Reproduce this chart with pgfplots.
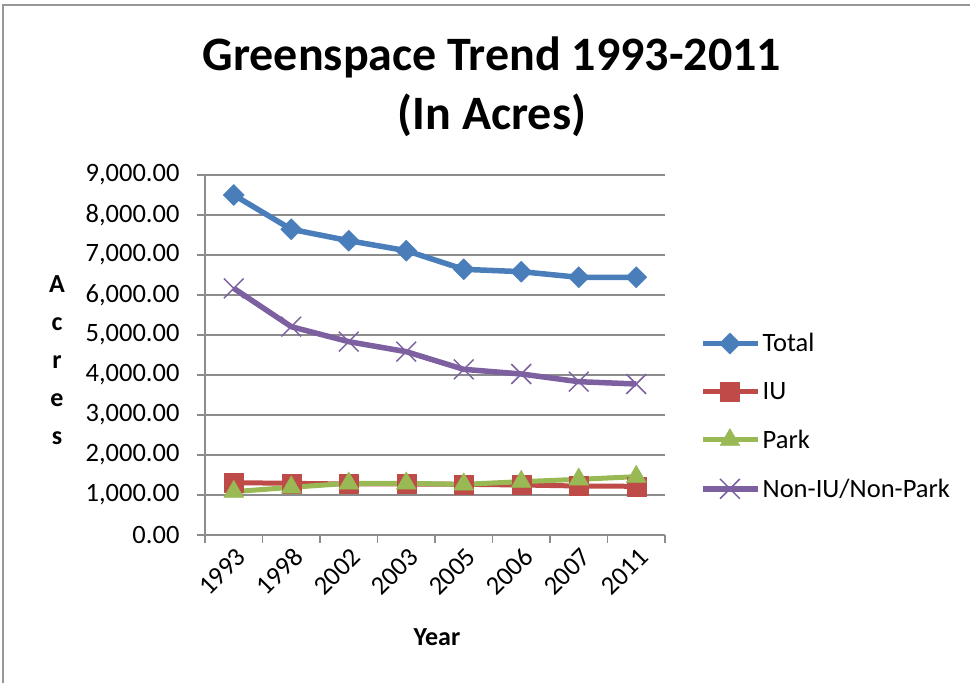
\documentclass[border=0pt]{standalone}
\usepackage{fontspec}
\setmainfont{Carlito}
\usepackage{pgfplots}
\pgfplotsset{compat=1.18}
\definecolor{cTotal}{HTML}{4A7EBB}
\definecolor{cIU}{HTML}{BE4B48}
\definecolor{cPark}{HTML}{98B954}
\definecolor{cNon}{HTML}{7D60A0}
\definecolor{cGrid}{HTML}{8C8C8C}
\begin{document}
\begin{tikzpicture}
\useasboundingbox (0pt,0pt) rectangle (970pt,683pt);
\draw[cGrid!90, line width=1.5pt] (3pt,0pt) -- (3pt,678pt) -- (970pt,678pt);
\node[font=\fontsize{48}{54}\selectfont\bfseries] at (492pt,626pt) {Greenspace Trend 1993-2011};
\node[font=\fontsize{48}{54}\selectfont\bfseries] at (492pt,568pt) {(In Acres)};
\node[font=\fontsize{26}{30}\selectfont\bfseries] at (437pt,46pt) {Year};
\node[font=\fontsize{26}{38}\selectfont\bfseries, align=center] at (57pt,323pt) {A\\c\\r\\e\\s};
\begin{axis}[
  at={(233.75pt,148pt)}, anchor=origin,
  scale only axis, width=460pt, height=360pt,
  xmin=-0.5, xmax=7.5, ymin=0, ymax=9000,
  axis x line*=bottom, axis y line*=left,
  axis line style={-, cGrid, line width=1.5pt},
  xtick={0,...,7},
  xticklabels={1993,1998,2002,2003,2005,2006,2007,2011},
  major x tick style={draw=none},
  minor xtick={-0.5,0.5,...,7.5},
  minor tick length=8pt, major tick length=8pt,
  tick align=outside,
  tick style={cGrid, line width=1.5pt},
  ytick={0,1000,...,9000},
  ymajorgrids, grid style={cGrid, line width=1.5pt},
  /pgf/number format/assume math mode=true,
  yticklabel style={/pgf/number format/.cd, fixed, fixed zerofill, precision=2, 1000 sep={,}, /tikz/.cd, xshift=-14pt},
  ticklabel style={font=\fontsize{26.5}{30}\selectfont},
  xticklabel style={rotate=45, anchor=east, yshift=-12pt, xshift=2pt},
  legend style={at={(1.076,0.33)}, anchor=west, draw=none, fill=none,
     font=\fontsize{26.5}{30}\selectfont, row sep=25pt, inner xsep=0pt},
  legend cell align=left,
  legend image code/.code={\draw[mark repeat=2,mark phase=2,#1] plot coordinates {(0pt,0pt)(27pt,0pt)(55pt,0pt)};},
  clip=false,
]
\addplot[cTotal, line width=5.5pt, line join=round, mark=square*, mark size=7.5pt,
  mark options={solid, line width=0.4pt, rotate=45}]
  coordinates {(0,8500)(1,7642)(2,7358)(3,7108)(4,6642)(5,6583)(6,6442)(7,6442)};
\addlegendentry{Total}
\addplot[cIU, line width=5pt, line join=round, mark=square*, mark size=9.5pt,
  mark options={solid, line width=0.4pt}]
  coordinates {(0,1308)(1,1292)(2,1275)(3,1275)(4,1267)(5,1250)(6,1225)(7,1217)};
\addlegendentry{IU}
\addplot[cPark, line width=5pt, line join=round, mark=triangle*, mark size=11.5pt,
  mark options={solid, line width=0.4pt}]
  coordinates {(0,1083)(1,1192)(2,1292)(3,1292)(4,1267)(5,1333)(6,1392)(7,1458)};
\addlegendentry{Park}
\addplot[cNon, line width=5.5pt, line join=round, mark=x, mark size=14pt,
  mark options={solid, line width=1.5pt}]
  coordinates {(0,6167)(1,5208)(2,4833)(3,4583)(4,4142)(5,4025)(6,3833)(7,3775)};
\addlegendentry{Non-IU/Non-Park}
\end{axis}
\end{tikzpicture}
\end{document}
